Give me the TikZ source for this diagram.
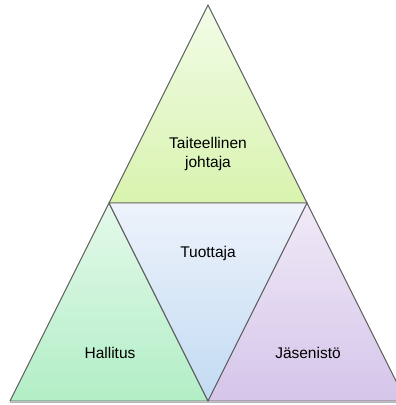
\documentclass[tikz,border=0pt]{standalone}
\usepackage{fontspec}
\setmainfont{Liberation Sans}
\usepackage{xcolor}
\usetikzlibrary{positioning}
\definecolor{edgegray}{HTML}{5C5C5C}
\definecolor{shadowgray}{HTML}{B4B4B4}
\definecolor{topA}{HTML}{F2FCE8}
\definecolor{topB}{HTML}{D8F3AE}
\definecolor{leftA}{HTML}{E4F9EA}
\definecolor{leftB}{HTML}{B2EEC6}
\definecolor{midA}{HTML}{EEF3FB}
\definecolor{midB}{HTML}{C1DAF2}
\definecolor{rightA}{HTML}{F0EAF7}
\definecolor{rightB}{HTML}{D5C5EA}
\tikzstyle{piece} = [draw=edgegray, line width=0.9pt, line join=round]
\tikzstyle{shade} = [draw=shadowgray, line width=1.2pt]
\tikzstyle{label} = [font=\fontsize{15.5}{18.5}\selectfont, align=center, inner sep=0pt]

\begin{document}
\begin{tikzpicture}[x=1pt,y=-1pt]
		\useasboundingbox (0,0) rectangle (396,405);
		\clip (0,0) rectangle (396,405);
		\coordinate (apex) at (208,5);
		\coordinate (ml) at (109,203);
		\coordinate (mr) at (307,203);
		\coordinate (bl) at (10,401);
		\coordinate (bm) at (208,401);
		\coordinate (br) at (406,401);
		% shadow under the base
		\draw [shade] ([yshift=-1.6pt]bl) -- ([yshift=-1.6pt]br);
		% the four triangles
		\draw [piece, top color=topA, bottom color=topB] (apex) -- (mr) -- (ml) -- cycle;
		\draw [piece, top color=leftA, bottom color=leftB] (ml) -- (bm) -- (bl) -- cycle;
		\draw [piece, top color=midA, bottom color=midB] (ml) -- (mr) -- (bm) -- cycle;
		\draw [piece, top color=rightA, bottom color=rightB] (mr) -- (br) -- (bm) -- cycle;
		% labels
		\node (taiteellinen) [label] at (208,154) {Taiteellinen\\johtaja};
		\node (tuottaja) [label] at (208,253) {Tuottaja};
		\node (hallitus) [label] at (110,353) {Hallitus};
		\node (jasenisto) [label] at (308,353) {Jäsenistö};
	\end{tikzpicture}
\end{document}
